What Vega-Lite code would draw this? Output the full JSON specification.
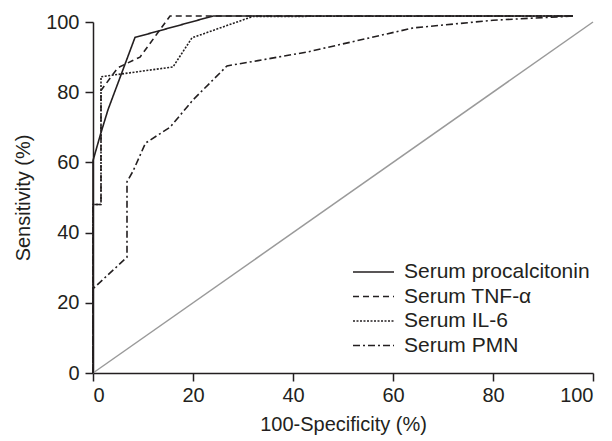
{
  "$schema": "https://vega.github.io/schema/vega-lite/v6.json",
  "width": 500,
  "height": 351,
  "autosize": {"type": "none"},
  "padding": {"left": 93, "top": 22, "right": 19, "bottom": 68},
  "background": "white",
  "config": {
    "view": {"stroke": null},
    "font": "Liberation Sans",
    "axis": {
      "domainColor": "#231f20", "domainWidth": 1.5,
      "tickColor": "#231f20", "tickWidth": 1.5, "tickSize": 8,
      "labelFont": "Liberation Sans", "labelFontSize": 20, "labelColor": "#231f20",
      "titleFont": "Liberation Sans", "titleFontSize": 20, "titleFontWeight": "normal", "titleColor": "#231f20",
      "grid": false
    }
  },
  "datasets": {
    "curves": [
      {"series": "Serum procalcitonin", "step": 1, "fpr": 0, "tpr": 0},
      {"series": "Serum procalcitonin", "step": 2, "fpr": 0, "tpr": 60.5},
      {"series": "Serum procalcitonin", "step": 3, "fpr": 1.5, "tpr": 68},
      {"series": "Serum procalcitonin", "step": 4, "fpr": 3, "tpr": 75},
      {"series": "Serum procalcitonin", "step": 5, "fpr": 8.4, "tpr": 95.6},
      {"series": "Serum procalcitonin", "step": 6, "fpr": 24, "tpr": 101.7},
      {"series": "Serum procalcitonin", "step": 7, "fpr": 96, "tpr": 101.7},
      {"series": "Serum TNF-α", "step": 1, "fpr": 0, "tpr": 0},
      {"series": "Serum TNF-α", "step": 2, "fpr": 0, "tpr": 48},
      {"series": "Serum TNF-α", "step": 3, "fpr": 1.6, "tpr": 48},
      {"series": "Serum TNF-α", "step": 4, "fpr": 1.6, "tpr": 80.5},
      {"series": "Serum TNF-α", "step": 5, "fpr": 5, "tpr": 87},
      {"series": "Serum TNF-α", "step": 6, "fpr": 9.4, "tpr": 90},
      {"series": "Serum TNF-α", "step": 7, "fpr": 15.4, "tpr": 101.7},
      {"series": "Serum TNF-α", "step": 8, "fpr": 96, "tpr": 101.7},
      {"series": "Serum IL-6", "step": 1, "fpr": 0, "tpr": 0},
      {"series": "Serum IL-6", "step": 2, "fpr": 0, "tpr": 48},
      {"series": "Serum IL-6", "step": 3, "fpr": 1.6, "tpr": 48},
      {"series": "Serum IL-6", "step": 4, "fpr": 1.6, "tpr": 84.4},
      {"series": "Serum IL-6", "step": 5, "fpr": 16, "tpr": 87.2},
      {"series": "Serum IL-6", "step": 6, "fpr": 19.8, "tpr": 95.5},
      {"series": "Serum IL-6", "step": 7, "fpr": 32, "tpr": 101.6},
      {"series": "Serum IL-6", "step": 8, "fpr": 96, "tpr": 101.7},
      {"series": "Serum PMN", "step": 1, "fpr": 0, "tpr": 0},
      {"series": "Serum PMN", "step": 2, "fpr": 0, "tpr": 24},
      {"series": "Serum PMN", "step": 3, "fpr": 6.8, "tpr": 33},
      {"series": "Serum PMN", "step": 4, "fpr": 6.8, "tpr": 54.5},
      {"series": "Serum PMN", "step": 5, "fpr": 8, "tpr": 57.5},
      {"series": "Serum PMN", "step": 6, "fpr": 10.5, "tpr": 65.5},
      {"series": "Serum PMN", "step": 7, "fpr": 15.4, "tpr": 70},
      {"series": "Serum PMN", "step": 8, "fpr": 20, "tpr": 77.8},
      {"series": "Serum PMN", "step": 9, "fpr": 26.8, "tpr": 87.5},
      {"series": "Serum PMN", "step": 10, "fpr": 33, "tpr": 89},
      {"series": "Serum PMN", "step": 11, "fpr": 43, "tpr": 91.5},
      {"series": "Serum PMN", "step": 12, "fpr": 64, "tpr": 98.3},
      {"series": "Serum PMN", "step": 13, "fpr": 80, "tpr": 100.5},
      {"series": "Serum PMN", "step": 14, "fpr": 96, "tpr": 101.7}
    ],
    "diag": [
      {"fpr": 0, "tpr": 0},
      {"fpr": 100, "tpr": 100}
    ]
  },
  "layer": [
    {
      "data": {"name": "diag"},
      "mark": {"type": "line", "color": "#9a9a9a", "strokeWidth": 1.5},
      "encoding": {
        "x": {"field": "fpr", "type": "quantitative", "scale": {"domain": [0, 100], "nice": false},
              "axis": {"values": [0, 20, 40, 60, 80, 100], "title": "100-Specificity (%)", "labelPadding": 4, "titlePadding": 9}},
        "y": {"field": "tpr", "type": "quantitative", "scale": {"domain": [0, 100], "nice": false},
              "axis": {"values": [0, 20, 40, 60, 80, 100], "title": "Sensitivity (%)", "labelPadding": 6, "titlePadding": 12}}
      }
    },
    {
      "data": {"name": "curves"},
      "mark": {"type": "line", "color": "#231f20", "strokeWidth": 1.6},
      "encoding": {
        "x": {"field": "fpr", "type": "quantitative"},
        "y": {"field": "tpr", "type": "quantitative"},
        "order": {"field": "step", "type": "quantitative"},
        "strokeDash": {
          "field": "series", "type": "nominal",
          "scale": {
            "domain": ["Serum procalcitonin", "Serum TNF-α", "Serum IL-6", "Serum PMN"],
            "range": [[1, 0], [6, 4], [2, 1.5], [7, 3, 2, 3]]
          },
          "legend": {
            "title": null,
            "orient": "none",
            "legendX": 259,
            "legendY": 239,
            "symbolType": "stroke",
            "symbolSize": 1681,
            "symbolStrokeColor": "#231f20",
            "symbolStrokeWidth": 1.5,
            "labelFontSize": 21,
            "labelFont": "Liberation Sans",
            "labelColor": "#231f20",
            "labelLimit": 400,
            "labelOffset": 9,
            "clipHeight": 22,
            "rowPadding": 2.5
          }
        }
      }
    }
  ]
}
